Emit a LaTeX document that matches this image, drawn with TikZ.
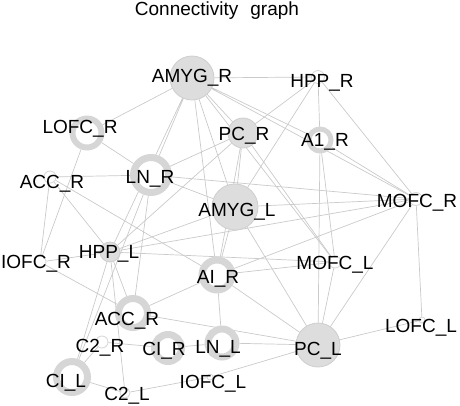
\documentclass[tikz,border=0pt]{standalone}
\usepackage{fontspec}
\setmainfont{Liberation Sans}
\usetikzlibrary{backgrounds}
\definecolor{edgegray}{RGB}{202, 202, 202}
\definecolor{discgray}{RGB}{221, 221, 221}
\definecolor{discline}{RGB}{206, 206, 206}
\definecolor{ringgray}{RGB}{214, 214, 214}

\begin{document}
\begin{tikzpicture}[x=1pt, y=-1pt,
	disc/.style={circle, fill=discgray, draw=discline, line width=0.8pt,
		inner sep=0pt, minimum size=#1},
	ring/.style={circle, fill=white, draw=ringgray, inner sep=0pt, minimum size=#1},
	dot/.style={circle, fill=white, draw=ringgray, line width=0.8pt,
		inner sep=0pt, minimum size=#1},
	lbl/.style={anchor=base, inner sep=0pt, font=\fontsize{19}{21}\selectfont},
	link/.style={edgegray, line width=0.7pt}]
	\useasboundingbox (0,0) rectangle (460,405);
	% title
	\node[lbl] (title) at (217,15) {Connectivity\hspace{12pt}graph};
	% filled discs
	\node[disc=44] (amygR) at (192,78) {};
	\node[disc=30] (pcR) at (243,133) {};
	\node[disc=46] (amygL) at (235,207) {};
	\node[disc=20] (hppL) at (110,252) {};
	\node[disc=44] (pcL) at (318,345) {};
	% rings
	\node[ring=29, line width=6pt] (lofcR) at (87,133) {};
	\node[ring=22, line width=5pt] (aoneR) at (320,140) {};
	\node[ring=35, line width=7pt] (lnR) at (151,175) {};
	\node[ring=30, line width=7pt] (aiR) at (217,275) {};
	\node[ring=29, line width=7pt] (accRb) at (133,313) {};
	\node[ring=27, line width=7pt] (ciR) at (168,348) {};
	\node[ring=28, line width=7pt] (lnL) at (222,343) {};
	\node[ring=31, line width=7pt] (ciL) at (72,377) {};
	% small dots
	\node[dot=13] (hppR) at (318,77) {};
	\node[dot=12] (accR) at (50,177) {};
	\node[dot=13] (mofcR) at (416,199) {};
	\node[dot=12] (iofcR) at (40,262) {};
	\node[dot=12] (mofcL) at (335,262) {};
	\node[dot=12] (ctwoR) at (102,342) {};
	\node[dot=10] (ctwoL) at (125,393) {};
	\node[dot=6] (iofcL) at (210,377) {};
	\node[dot=6] (lofcL) at (422,320) {};
	% connections, behind the nodes
	\begin{pgfonlayer}{background}
		\draw[link] (amygR) -- (hppR) (amygR) -- (lofcR) (amygR) -- (lnR)
		(amygR) -- (hppL) (amygR) -- (aiR) (amygR) -- (amygL) (amygR) -- (pcR)
		(amygR) -- (aoneR) (amygR) -- (mofcR) (amygR) -- (mofcL);
		\draw[link] (hppR) -- (pcR) (hppR) -- (amygL) (hppR) -- (aoneR)
		(hppR) -- (mofcR);
		\draw[link] (aoneR) -- (mofcR) (aoneR) -- (mofcL) (aoneR) -- (pcL);
		\draw[link] (mofcR) -- (lnR) (mofcR) -- (amygL) (mofcR) -- (hppL)
		(mofcR) -- (aiR) (mofcR) -- (pcL) (mofcR) -- (lofcL);
		\draw[link] (pcR) -- (lnR) (pcR) -- (hppL) (pcR) -- (amygL)
		(pcR) -- (mofcL) (pcR) -- (aiR);
		\draw[link] (lofcR) -- (lnR) (lofcR) -- (iofcR);
		\draw[link] (accR) -- (lnR) (accR) -- (iofcR) (accR) -- (hppL)
		(accR) -- (aiR);
		\draw[link] (iofcR) -- (hppL) (iofcR) -- (accRb);
		\draw[link] (hppL) -- (amygL) (hppL) -- (mofcL) (hppL) -- (accRb)
		(hppL) -- (ciL) (hppL) -- (ctwoL);
		\draw[link] (lnR) -- (amygL) (lnR) -- (ciL) (lnR) -- (accRb);
		\draw[link] (amygL) -- (aiR) (amygL) -- (pcL);
		\draw[link] (aiR) -- (mofcL) (aiR) -- (accRb) (aiR) -- (pcL)
		(aiR) -- (lnL);
		\draw[link] (mofcL) -- (pcL);
		\draw[link] (pcL) -- (accRb) (pcL) -- (lnL) (pcL) -- (iofcL)
		(pcL) -- (lofcL);
		\draw[link] (ctwoR) -- (ciR) (ctwoR) -- (ciL) (ciR) -- (lnL);
		\draw[link] (ciL) -- (ctwoL) (ctwoL) -- (iofcL);
	\end{pgfonlayer}
	% labels
	\node[lbl] (amygR-t) at (192,82) {AMYG\_R};
	\node[lbl] (hppR-t) at (322,87) {HPP\_R};
	\node[lbl] (lofcR-t) at (80,133) {LOFC\_R};
	\node[lbl] (pcR-t) at (244,140) {PC\_R};
	\node[lbl] (aoneR-t) at (325,146) {A1\_R};
	\node[lbl] (accR-t) at (52,188) {ACC\_R};
	\node[lbl] (lnR-t) at (150,183) {LN\_R};
	\node[lbl] (mofcR-t) at (417,207) {MOFC\_R};
	\node[lbl] (amygL-t) at (237,216) {AMYG\_L};
	\node[lbl] (iofcR-t) at (36,268) {IOFC\_R};
	\node[lbl] (hppL-t) at (109,258) {HPP\_L};
	\node[lbl] (aiR-t) at (218,283) {AI\_R};
	\node[lbl] (mofcL-t) at (335,269) {MOFC\_L};
	\node[lbl] (accRb-t) at (127,325) {ACC\_R};
	\node[lbl] (ctwoR-t) at (100,352) {C2\_R};
	\node[lbl] (ciR-t) at (164,355) {CI\_R};
	\node[lbl] (lnL-t) at (218,353) {LN\_L};
	\node[lbl] (pcL-t) at (318,355) {PC\_L};
	\node[lbl] (lofcL-t) at (421,332) {LOFC\_L};
	\node[lbl] (ciL-t) at (66,387) {CI\_L};
	\node[lbl] (ctwoL-t) at (127,400) {C2\_L};
	\node[lbl] (iofcL-t) at (213,388) {IOFC\_L};
\end{tikzpicture}
\end{document}
